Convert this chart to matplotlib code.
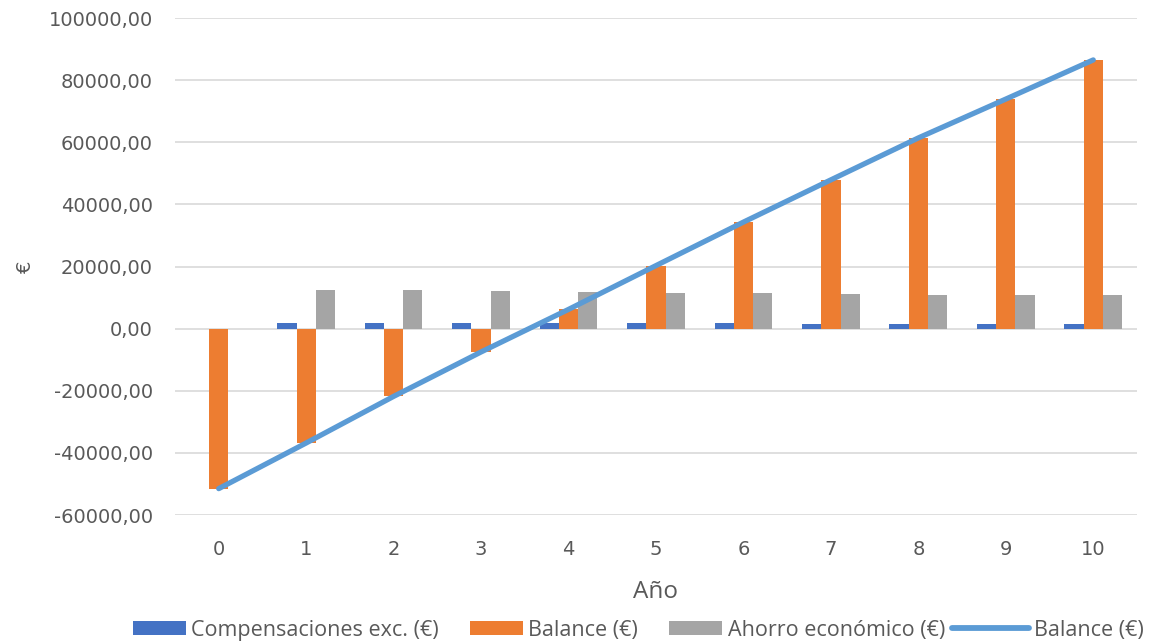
import matplotlib
matplotlib.use("Agg")
import matplotlib.pyplot as plt
import numpy as np
from matplotlib.ticker import FuncFormatter
from matplotlib.lines import Line2D
from matplotlib.patches import Patch
from matplotlib.legend_handler import HandlerLine2D

years = [0, 1, 2, 3, 4, 5, 6, 7, 8, 9, 10]
compensaciones = [0, 1900, 1900, 1900, 1800, 1800, 1800, 1400, 1400, 1400, 1400]
balance = [-51500, -36800, -21800, -7500, 6200, 20300, 34300, 47900, 61400, 73900, 86500]
ahorro = [0, 12600, 12600, 12050, 11900, 11500, 11400, 11300, 10900, 10900, 10900]

c_blue = "#4472c4"
c_orange = "#ed7d31"
c_gray = "#a5a5a5"
c_line = "#5b9bd5"
txt = "#595959"

plt.rcParams["font.family"] = ["Open Sans", "DejaVu Sans"]


class WideLineHandler(HandlerLine2D):
    """Line legend key that reaches further left than the patch keys."""

    def create_artists(self, legend, orig_handle, xdescent, ydescent, width,
                       height, fontsize, trans):
        extra = 0.45 * width
        return super().create_artists(legend, orig_handle, xdescent + extra,
                                      ydescent, width + extra, height,
                                      fontsize, trans)


fig = plt.figure(figsize=(11.59, 6.43), dpi=100)
ax = fig.add_axes([0.151, 0.199, 0.830, 0.773])

x = np.arange(len(years))
w = 0.22
ax.bar(x - w, compensaciones, w, color=c_blue, zorder=2)
ax.bar(x, balance, w, color=c_orange, zorder=2)
ax.bar(x + w, ahorro, w, color=c_gray, zorder=2)
ax.plot(x, balance, color=c_line, lw=3.8, solid_capstyle="round", zorder=3)

ax.set_xlim(-0.5, len(years) - 0.5)
ax.set_ylim(-60000, 100000)
ax.set_yticks(np.arange(-60000, 100001, 20000))
ax.yaxis.set_major_formatter(FuncFormatter(lambda v, p: f"{v:.2f}".replace(".", ",")))
ax.set_xticks(x)
ax.set_xticklabels([str(y) for y in years])

ax.grid(axis="y", color="#d9d9d9", lw=1.2, zorder=0)
ax.set_axisbelow(True)
for s in ax.spines.values():
    s.set_visible(False)
ax.tick_params(axis="both", length=0, colors=txt, labelsize=14)
ax.tick_params(axis="y", pad=16)
ax.tick_params(axis="x", pad=18)
for lab in ax.get_xticklabels() + ax.get_yticklabels():
    lab.set_family(["DejaVu Sans"])

ax.set_xlabel("Año", fontsize=17.5, color=txt, labelpad=15)
ax.set_ylabel("€", fontsize=14, color=txt, labelpad=10, family=["DejaVu Sans"])

line_key = Line2D([0], [0], color=c_line, lw=4.2, solid_capstyle="round",
                  label="Balance (€)")
handles = [
    Patch(facecolor=c_blue, label="Compensaciones exc. (€)"),
    Patch(facecolor=c_orange, label="Balance (€)"),
    Patch(facecolor=c_gray, label="Ahorro económico (€)"),
    line_key,
]
leg = fig.legend(handles=handles, loc="center", bbox_to_anchor=(0.551, 0.02), ncol=4,
                 frameon=False, fontsize=15.5, handlelength=2.45, handleheight=0.65,
                 handletextpad=0.25, columnspacing=1.45, labelcolor=txt,
                 handler_map={line_key: WideLineHandler()})

fig.savefig("out.png", dpi=100)
